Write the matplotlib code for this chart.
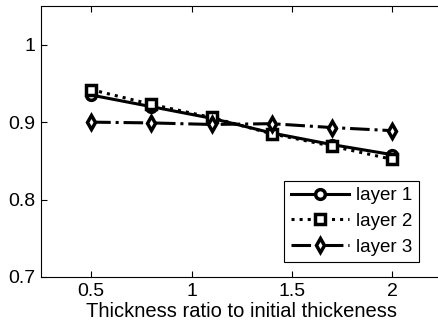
import matplotlib
matplotlib.use("Agg")
import matplotlib.pyplot as plt

x = [0.5, 0.8, 1.1, 1.4, 1.7, 2.0]
layer1 = [0.935, 0.920, 0.905, 0.886, 0.871, 0.858]
layer2 = [0.942, 0.923, 0.906, 0.885, 0.869, 0.852]
layer3 = [0.900, 0.899, 0.897, 0.898, 0.893, 0.889]
labels = ["layer 1", "layer 2", "layer 3"]
xticks = [0.5, 1, 1.5, 2]
yticks = [0.7, 0.8, 0.9, 1.0]

plt.rcParams['font.family'] = ['Liberation Sans', 'DejaVu Sans']
fig = plt.figure(figsize=(4.38, 3.27), dpi=100)
ax = fig.add_axes([41/438, 1-277/327, 401.4/438, 271/327])

kw = dict(color='black', lw=2.2, markersize=7, markerfacecolor='white', markeredgewidth=2.5)
ax.plot(x, layer1, '-', marker='o', label=labels[0], **kw)
ax.plot(x, layer2, ':', marker='s', label=labels[1], **kw)
ax.plot(x, layer3, '-.', marker='d', label=labels[2], **kw)

ax.set_xlim(0.25, 2.25)
ax.set_ylim(0.7, 1.05)
ax.set_xticks(xticks)
ax.set_xticklabels(['0.5', '1', '1.5', '2'])
ax.set_yticks(yticks)
ax.set_yticklabels(['0.7', '0.8', '0.9', '1'])
ax.tick_params(direction='in', top=True, right=False, labelsize=14, length=4, pad=4)
ax.set_xlabel('Thickness ratio to initial thickeness', fontsize=14.5, labelpad=2)
for s in ax.spines.values():
    s.set_linewidth(0.8)

leg = ax.legend(loc='lower right', fontsize=13.5, frameon=True, fancybox=False,
                edgecolor='black', framealpha=1, handlelength=3.1, borderpad=0.35,
                labelspacing=0.45, handletextpad=0.4, borderaxespad=0,
                bbox_to_anchor=(0.942, 0.055))
leg.get_frame().set_linewidth(0.8)

fig.savefig('out.png', dpi=100)
